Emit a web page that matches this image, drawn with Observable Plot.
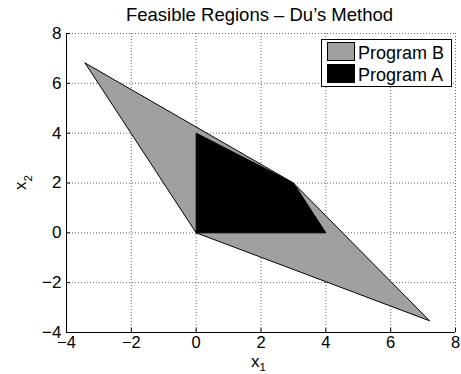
<!DOCTYPE html>
<html>
<head>
<meta charset="utf-8">
<script src="https://cdn.jsdelivr.net/npm/d3@7"></script>
<script src="https://cdn.jsdelivr.net/npm/@observablehq/plot@0.6"></script>
<style>
  html, body { margin: 0; padding: 0; background: white; }
  #chart { width: 461px; height: 374px; position: relative; }
</style>
</head>
<body>
<div id="chart"></div>
<script>
// Data
const programBx = [-3.43, 0, 7.2, 3, -3.43];
const programBy = [6.82, 0, -3.53, 2, 6.82];
const programAx = [0, 0, 3, 4, 0];
const programAy = [0, 4, 2, 0, 0];
const xTicks = [-4, -2, 0, 2, 4, 6, 8];
const yTicks = [-4, -2, 0, 2, 4, 6, 8];
const seriesNames = ["Program B", "Program A"];
const seriesColors = ["#a0a0a0", "#000000"];
const titleText = "Feasible Regions \u2013 Du\u2019s Method";

const progB = programBx.map((x, i) => ({x, y: programBy[i]}));
const progA = programAx.map((x, i) => ({x, y: programAy[i]}));
const fmt = d => d < 0 ? "\u2212" + (-d) : String(d);
const FONT = "'Liberation Sans', Arial, Helvetica, sans-serif";

const plot = Plot.plot({
  width: 461,
  height: 374,
  marginLeft: 66,
  marginRight: 6,
  marginTop: 33,
  marginBottom: 42,
  style: {fontFamily: FONT, fontSize: "17px", background: "white", color: "black", overflow: "visible"},
  x: {domain: [-4, 8]},
  y: {domain: [-4, 8]},
  marks: [
    Plot.gridX(xTicks, {stroke: "#000", strokeOpacity: 0.6, strokeDasharray: "1,2"}),
    Plot.gridY(yTicks, {stroke: "#000", strokeOpacity: 0.6, strokeDasharray: "1,2"}),
    Plot.line(progB, {x: "x", y: "y", fill: seriesColors[0], stroke: "#000", strokeWidth: 1, curve: "linear"}),
    Plot.line(progA, {x: "x", y: "y", fill: seriesColors[1], stroke: "#000", strokeWidth: 1, curve: "linear"}),
    Plot.ruleX([-4], {stroke: "#000", strokeWidth: 1}),
    Plot.ruleY([-4], {stroke: "#000", strokeWidth: 1}),
    Plot.axisX(xTicks, {anchor: "bottom", tickSize: -4, tickPadding: 8, tickFormat: fmt, label: null, fontSize: 16.5}),
    Plot.axisY(yTicks, {anchor: "left", tickSize: -4, tickPadding: 9, tickFormat: fmt, label: null, fontSize: 17})
  ]
});
document.getElementById("chart").appendChild(plot);

const svg = d3.select(plot);
const sx = plot.scale("x"), sy = plot.scale("y");
const cx = (sx.range[0] + sx.range[1]) / 2;
const cy = (sy.range[0] + sy.range[1]) / 2;

// Title
svg.append("text").attr("x", cx - 1).attr("y", 21).attr("text-anchor", "middle")
  .attr("font-family", FONT).attr("font-size", 18.5).attr("fill", "#000").text(titleText);

// x label
const xl = svg.append("text").attr("x", cx - 2).attr("y", 367).attr("text-anchor", "middle")
  .attr("font-family", FONT).attr("font-size", 17).attr("fill", "#000");
xl.append("tspan").text("x");
xl.append("tspan").attr("font-size", 11.5).attr("dy", 4).text("1");

// y label
const yl = svg.append("text").attr("transform", `translate(26,${cy}) rotate(-90)`).attr("text-anchor", "middle")
  .attr("font-family", FONT).attr("font-size", 17).attr("fill", "#000");
yl.append("tspan").text("x");
yl.append("tspan").attr("font-size", 11.5).attr("dy", 6).text("2");

// Legend
const lg = svg.append("g");
lg.append("rect").attr("x", 321.5).attr("y", 39.5).attr("width", 130).attr("height", 47)
  .attr("fill", "white").attr("stroke", "#000").attr("stroke-width", 1);
seriesNames.forEach((name, i) => {
  const yy = 42.5 + i * 22;
  lg.append("rect").attr("x", 327.5).attr("y", yy).attr("width", 27).attr("height", 18)
    .attr("fill", seriesColors[i]).attr("stroke", "#000").attr("stroke-width", 1);
  lg.append("text").attr("x", 358).attr("y", yy + 16).attr("text-anchor", "start")
    .attr("font-family", FONT).attr("font-size", 18).attr("fill", "#000").text(name);
});
</script>
</body>
</html>
